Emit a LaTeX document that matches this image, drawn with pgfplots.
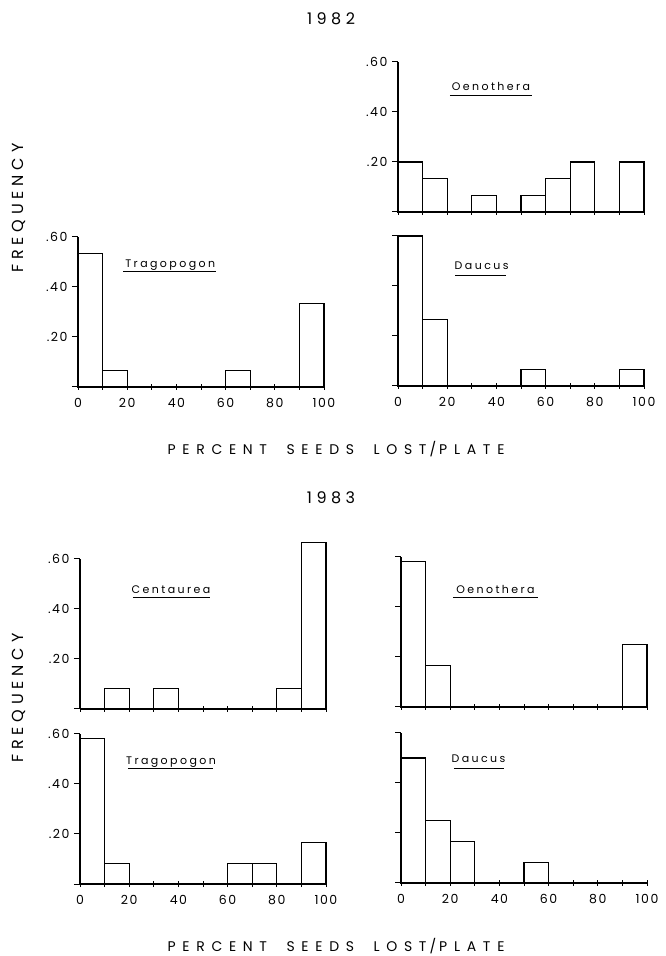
\documentclass[border=0pt]{standalone}
\usepackage{fontspec}
\setmainfont{Poppins}
\newfontfamily\spaced{Poppins}[LetterSpace=22]
\newfontfamily\tickf{Poppins}[LetterSpace=12]
\newfontfamily\widesp{Poppins}[LetterSpace=48]
\newfontfamily\yearf{Poppins}[LetterSpace=28]
\newfontfamily\freqf{Poppins}[LetterSpace=30]
\usepackage{pgfplots}
\pgfplotsset{compat=1.18}
\pgfplotsset{
  hist/.style={
    scale only axis, width=246pt, height=150pt, anchor=south west,
    xmin=0, xmax=100, ymin=0, ymax=0.6,
    axis lines*=left, axis line style={line width=1.2pt},
    clip=false,
    xtick={0,10,...,100}, ytick={0,0.2,0.4,0.6},
    xticklabels={}, yticklabels={},
    major tick length=6pt,
    xtick align=center, ytick align=outside,
    tick style={black, line width=1pt},
    /pgf/number format/assume math mode=true,
    tick label style={font=\fontsize{12.5}{14}\selectfont\tickf},
    xticklabel style={yshift=-5pt},
    yticklabel style={xshift=-1pt},
  },
  xlab/.style={xticklabels={0,,20,,40,,60,,80,,100}},
  ylab/.style={yticklabels={,.20,.40,.60}},
  bars/.style={ybar interval, fill=white, draw=black, line width=1.3pt},
}
\tikzset{
  sp/.style={anchor=base, font=\fontsize{11}{12}\selectfont\spaced},
  ul/.style={line width=0.9pt},
  ttl/.style={anchor=base, inner sep=0pt, font=\fontsize{14}{16}\selectfont\widesp},
}
\begin{document}
\begin{tikzpicture}[x=1pt,y=1pt]
\useasboundingbox (0,0) rectangle (665,956);

% titles
\node[font=\fontsize{16}{18}\selectfont\yearf] at (331,937) {1982};
\node[ttl] at (336,501) {PERCENT\hspace{9pt} SEEDS\hspace{9pt} LOST\hspace{3pt}/\hspace{3pt}PLATE};
\node[font=\fontsize{16}{18}\selectfont\yearf] at (331,458) {1983};
\node[ttl] at (336,5) {PERCENT\hspace{9pt} SEEDS\hspace{9pt} LOST\hspace{3pt}/\hspace{3pt}PLATE};
\node[rotate=90, font=\fontsize{16}{18}\selectfont\freqf] at (19,748) {FREQUENCY};
\node[rotate=90, font=\fontsize{16}{18}\selectfont\freqf] at (19,258) {FREQUENCY};

% 1982 Oenothera
\begin{axis}[hist, ylab, at={(398pt,744pt)}]
\addplot[bars] coordinates {(0,0.2) (10,0.133) (20,0) (30,0.067) (40,0) (50,0.067) (60,0.133) (70,0.2) (80,0) (90,0.2) (100,0)};
\node[sp] at (axis cs:37.8,0.487) {Oenothera};
\draw[ul] (axis cs:21.1,0.467) -- (axis cs:54.5,0.467);
\end{axis}

% 1982 Tragopogon
\begin{axis}[hist, xlab, ylab, at={(78pt,569pt)}]
\addplot[bars] coordinates {(0,0.533) (10,0.067) (20,0) (30,0) (40,0) (50,0) (60,0.067) (70,0) (80,0) (90,0.333) (100,0)};
\node[sp] at (axis cs:37.5,0.476) {Tragopogon};
\draw[ul] (axis cs:18.4,0.463) -- (axis cs:56,0.463);
\end{axis}

% 1982 Daucus
\begin{axis}[hist, xlab, at={(398pt,570pt)}]
\addplot[bars] coordinates {(0,0.6) (10,0.267) (20,0) (30,0) (40,0) (50,0.067) (60,0) (70,0) (80,0) (90,0.067) (100,0)};
\node[sp] at (axis cs:34.0,0.466) {Daucus};
\draw[ul] (axis cs:23.3,0.444) -- (axis cs:44.1,0.444);
\end{axis}

% 1983 Centaurea
\begin{axis}[hist, ylab, at={(80pt,247pt)}]
\addplot[bars] coordinates {(0,0) (10,0.083) (20,0) (30,0.083) (40,0) (50,0) (60,0) (70,0) (80,0.083) (90,0.667) (100,0)};
\node[sp] at (axis cs:37.0,0.462) {Centaurea};
\draw[ul] (axis cs:21.5,0.448) -- (axis cs:52.8,0.448);
\end{axis}

% 1983 Oenothera
\begin{axis}[hist, at={(401pt,249pt)}]
\addplot[bars] coordinates {(0,0.583) (10,0.167) (20,0) (30,0) (40,0) (50,0) (60,0) (70,0) (80,0) (90,0.25) (100,0)};
\node[sp] at (axis cs:38.4,0.452) {Oenothera};
\draw[ul] (axis cs:21.1,0.438) -- (axis cs:55.7,0.438);
\end{axis}

% 1983 Tragopogon
\begin{axis}[hist, xlab, ylab, at={(80pt,72pt)}]
\addplot[bars] coordinates {(0,0.583) (10,0.083) (20,0) (30,0) (40,0) (50,0) (60,0.083) (70,0.083) (80,0) (90,0.167) (100,0)};
\node[sp] at (axis cs:37.0,0.478) {Tragopogon};
\draw[ul] (axis cs:19.5,0.464) -- (axis cs:54,0.464);
\end{axis}

% 1983 Daucus
\begin{axis}[hist, xlab, at={(401pt,73pt)}]
\addplot[bars] coordinates {(0,0.5) (10,0.25) (20,0.167) (30,0) (40,0) (50,0.083) (60,0) (70,0) (80,0) (90,0) (100,0)};
\node[sp] at (axis cs:31.5,0.48) {Daucus};
\draw[ul] (axis cs:21.5,0.46) -- (axis cs:41.9,0.46);
\end{axis}
\end{tikzpicture}
\end{document}
